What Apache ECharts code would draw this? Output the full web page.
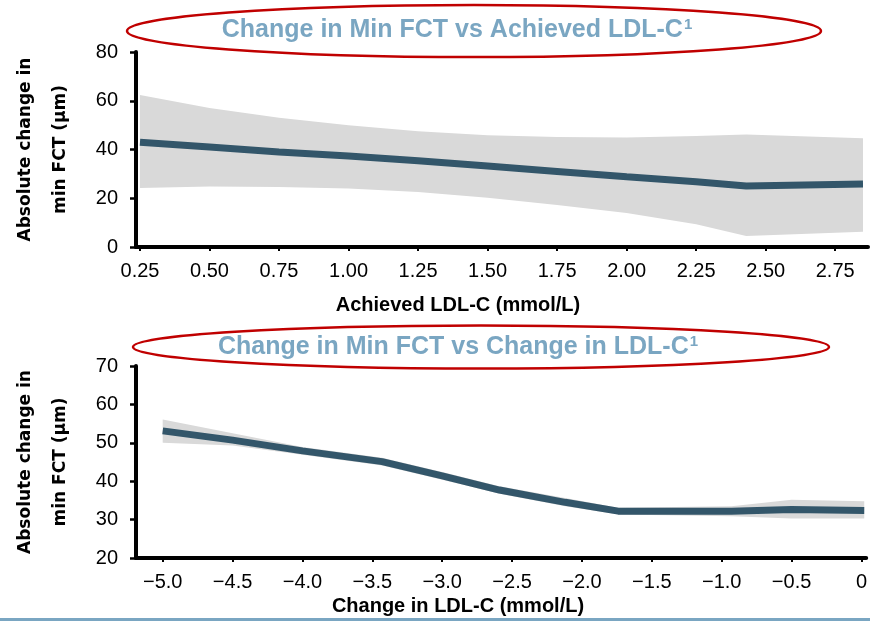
<!DOCTYPE html>
<html>
<head>
<meta charset="utf-8">
<script src="https://cdn.jsdelivr.net/npm/echarts@6/dist/echarts.min.js"></script>
<style>
  html, body { margin: 0; padding: 0; background: #fff; }
  #chart { width: 870px; height: 621px; }
</style>
</head>
<body>
<div id="chart"></div>
<script>
// top panel: achieved LDL-C
const topX = [0.25, 0.5, 0.75, 1.0, 1.25, 1.5, 1.75, 2.0, 2.25, 2.43, 2.85];
const topMean = [43, 41, 39, 37.3, 35.4, 33.2, 31, 28.8, 26.8, 25.0, 25.8];
const topUpper = [62.4, 57, 53, 50, 47.5, 45.8, 45.1, 44.9, 45.5, 46.2, 44.6];
const topLower = [24.2, 24.8, 24.6, 24, 22.6, 20.2, 17.2, 13.9, 9.3, 4.5, 6.3];
const topTicks = [0.25, 0.5, 0.75, 1.0, 1.25, 1.5, 1.75, 2.0, 2.25, 2.5, 2.75];

// bottom panel: change in LDL-C
const botX = [-5.0, -4.5, -4.0, -3.43, -3.0, -2.59, -2.12, -1.74, -0.93, -0.5, 0.02];
const botMean = [53.1, 50.7, 47.9, 45.1, 41.4, 37.7, 34.5, 32.2, 32.2, 32.6, 32.4];
const botUpper = [56.1, 52.5, 48.9, 46.1, 42.4, 38.7, 35.6, 33.1, 33.5, 35.2, 34.8];
const botLower = [50.0, 49.3, 46.9, 44.1, 40.4, 36.7, 33.5, 31.3, 30.9, 30.3, 30.3];
const botTicks = [-5.0, -4.5, -4.0, -3.5, -3.0, -2.5, -2.0, -1.5, -1.0, -0.5, 0];

const yName = 'Absolute change in\nmin FCT (µm)';
const titleColor = '#7aa6c2';
const lineColor = '#33566a';
const bandColor = '#d9d9d9';
const tickFont = 'Liberation Sans';

const chart = echarts.init(document.getElementById('chart'));

function xAxisOpt(grid, min, max, ticks, fmt) {
  return {
    type: 'value',
    gridIndex: grid,
    min: min,
    max: max,
    splitLine: { show: false },
    axisLine: { onZero: false, lineStyle: { color: '#000', width: 4 } },
    axisTick: { customValues: ticks, length: 4, lineStyle: { color: '#000', width: 2 } },
    axisLabel: {
      customValues: ticks,
      formatter: fmt,
      margin: 14,
      color: '#000',
      fontFamily: tickFont,
      fontSize: 20
    }
  };
}

function yAxisOpt(grid, min, max, interval) {
  return {
    type: 'value',
    gridIndex: grid,
    min: min,
    max: max,
    interval: interval,
    name: yName,
    nameLocation: 'middle',
    nameGap: 58,
    nameRotate: 90,
    nameTextStyle: {
      fontFamily: 'DejaVu Sans',
      fontWeight: 'bold',
      fontSize: 17,
      lineHeight: 35,
      color: '#000'
    },
    splitLine: { show: false },
    axisLine: { show: true, onZero: false, lineStyle: { color: '#000', width: 4 } },
    axisTick: { show: true, length: 6, lineStyle: { color: '#000', width: 2.5 } },
    axisLabel: {
      margin: 18,
      color: '#000',
      fontFamily: tickFont,
      fontSize: 20
    }
  };
}

// confidence band as one polygon: upper edge left to right, lower edge back
function bandSeries(axis, xs, lower, upper) {
  return {
    type: 'custom',
    xAxisIndex: axis,
    yAxisIndex: axis,
    silent: true,
    z: 1,
    data: xs.map((x, i) => [x, lower[i], upper[i]]),
    renderItem: function (params, api) {
      if (params.dataIndex !== 0) return;
      const pts = [];
      for (let i = 0; i < xs.length; i++) pts.push(api.coord([xs[i], upper[i]]));
      for (let i = xs.length - 1; i >= 0; i--) pts.push(api.coord([xs[i], lower[i]]));
      return {
        type: 'polygon',
        shape: { points: pts },
        style: { fill: bandColor }
      };
    }
  };
}

function meanSeries(axis, xs, mean) {
  return {
    type: 'line',
    xAxisIndex: axis,
    yAxisIndex: axis,
    data: xs.map((x, i) => [x, mean[i]]),
    symbol: 'none',
    z: 5,
    lineStyle: { color: lineColor, width: 7 }
  };
}

function titleText(x, y, text) {
  return {
    type: 'text',
    x: x,
    y: y,
    z: 20,
    style: {
      text: '{m|' + text + '}{s|1}',
      align: 'center',
      verticalAlign: 'middle',
      rich: {
        m: { fontFamily: 'Liberation Sans', fontWeight: 'bold', fontSize: 25, lineHeight: 25, fill: titleColor, color: titleColor },
        s: { fontFamily: 'Liberation Sans', fontWeight: 'bold', fontSize: 15, lineHeight: 15, verticalAlign: 'top', fill: titleColor, color: titleColor, padding: [0, 0, 0, 1] }
      }
    }
  };
}

function axisTitle(x, y, text) {
  return {
    type: 'text',
    x: x,
    y: y,
    z: 20,
    style: {
      text: text,
      align: 'center',
      verticalAlign: 'middle',
      fontFamily: 'Liberation Sans',
      fontWeight: 'bold',
      fontSize: 20,
      fill: '#000'
    }
  };
}

const option = {
  animation: false,
  grid: [
    { left: 132, right: 2, top: 52, height: 195 },
    { left: 135, right: 2, top: 366, height: 192 }
  ],
  xAxis: [
    xAxisOpt(0, 0.2357, 2.868, topTicks, v => v.toFixed(2)),
    xAxisOpt(1, -5.191, 0.034, botTicks, v => (v === 0 ? '0' : '\u2212' + Math.abs(v).toFixed(1)))
  ],
  yAxis: [
    yAxisOpt(0, 0, 80, 20),
    yAxisOpt(1, 20, 70, 10)
  ],
  series: [
    bandSeries(0, topX, topLower, topUpper),
    meanSeries(0, topX, topMean),
    bandSeries(1, botX, botLower, botUpper),
    meanSeries(1, botX, botMean)
  ],
  graphic: [
    { type: 'ellipse', z: 10, shape: { cx: 474, cy: 31, rx: 347, ry: 26 }, style: { fill: 'none', stroke: '#c00000', lineWidth: 2.5 } },
    { type: 'ellipse', z: 10, shape: { cx: 481, cy: 347, rx: 348, ry: 21.5 }, style: { fill: 'none', stroke: '#c00000', lineWidth: 2.5 } },
    titleText(457, 30, 'Change in Min FCT vs Achieved LDL-C'),
    titleText(458, 347, 'Change in Min FCT vs Change in LDL-C'),
    axisTitle(458, 305, 'Achieved LDL-C (mmol/L)'),
    axisTitle(458, 606, 'Change in LDL-C (mmol/L)'),
    { type: 'rect', z: 10, shape: { x: 0, y: 618, width: 870, height: 3 }, style: { fill: titleColor } }
  ]
};

chart.setOption(option);
</script>
</body>
</html>
